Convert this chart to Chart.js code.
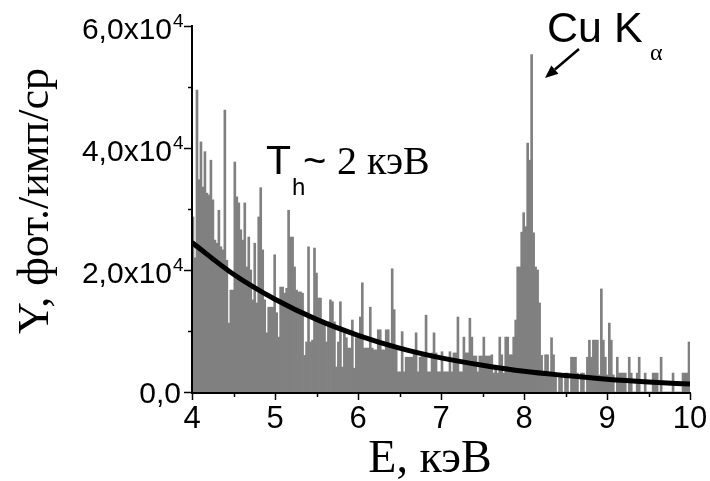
<!DOCTYPE html>
<html>
<head>
<meta charset="utf-8">
<script src="https://cdn.jsdelivr.net/npm/chart.js@4"></script>
<style>
  html, body { margin: 0; padding: 0; background: #ffffff; }
  #wrap { width: 710px; height: 481px; position: relative; }
</style>
</head>
<body>
<div id="wrap"><canvas id="c" width="710" height="481"></canvas></div>
<script>
// Spectrum channels: 0.024 keV wide, starting at 4 keV
const channelStart = 4.0;
const channelWidth = 0.024;

// Photon yield per channel (фот./имп/ср)
const counts = [
  28700, 22000, 49500, 34800, 41000, 33600, 39400, 32600, 32300, 38000,
  31500, 24900, 24400, 29800, 23800, 23300, 46200, 21600, 11300, 16700,
  16700, 37700, 32000, 31000, 26600, 24900, 31000, 20500, 25400, 20000,
  15100, 24400, 14600, 28700, 33500, 23300, 15100, 9700, 13900, 13900,
  13900, 22500, 13000, 9000, 17200, 17200, 16200, 17000,
  29800, 25400, 25400, 20500, 16700, 16400, 16400, 16200, 6000, 8200,
  23800, 8200, 8500, 23600, 19500, 15400, 15400, 11800, 11500, 8200,
  11500, 15100, 14800, 11500, 4100, 8200, 14800, 4100, 10200, 8900,
  7200, 7200, 11800, 3900, 8900, 8900, 12300, 17900, 7200, 7200,
  7200, 13900, 7200, 6900, 6900, 10200, 10200, 6900, 6900, 10200,
  10200,
  7400, 20200, 13500, 6900, 3300, 3300, 9900, 3300, 5700, 5700,
  5700, 5700, 6400, 9700, 3300, 5700, 6400, 6400, 12600, 3300,
  3300, 6400, 9700, 6400, 3300, 3300, 6600, 3300, 3300, 3300,
  6600, 3300, 6400, 6400, 12300, 3300, 3300, 9000, 6400, 6400,
  12100, 9000, 5900, 5900, 3300, 5900, 5900, 9000, 5900, 5900,
  5900,
  6100, 3100, 4400, 3100, 9000, 6100, 3100, 9000, 9000, 6100,
  6100, 9000, 11800, 20500, 20500, 26200, 29400, 27100, 40800, 38000,
  55300, 26100, 20500, 20000, 14600, 6000, 3000, 6100, 6100, 3100,
  8900, 6100, 3100, 0, 3100, 3100, 0, 3100, 3100, 0,
  5700, 5700, 5700, 3100, 0, 3100, 3100, 0, 5700, 8500,
  5700, 8500, 8500, 8500, 2800, 16900, 8500, 5700, 2800, 11300,
  8500, 2800, 0, 5700, 3100, 3100, 3100, 3100, 0, 5700,
  3100, 0, 0, 3100, 5700, 0, 0, 3100, 0, 0,
  0, 3100, 3100, 3100, 0, 5700, 0, 0, 0, 0,
  0, 3100, 0, 0, 0, 0, 3100, 3100, 3100, 8200
];

// Exponential fit, T_h ~ 2 keV
const fitEnergy = [4.0, 4.5, 5.0, 5.5, 6.0, 6.5, 7.0, 7.5, 8.0, 8.5, 9.0, 9.5, 10.0];
const fitCounts = [24500, 19300, 15200, 11900, 9300, 7200, 5600, 4400, 3400, 2700, 2100, 1650, 1300];

// Axis ticks and labels
const xTicks = [4, 5, 6, 7, 8, 9, 10];
const xTickLabels = ['4', '5', '6', '7', '8', '9', '10'];
const xMinorTicks = [4.5, 5.5, 6.5, 7.5, 8.5, 9.5];
const yTicks = [0, 20000, 40000, 60000];
const yTickMantissa = ['0,0', '2,0x10', '4,0x10', '6,0x10'];
const yTickExponent = ['', '4', '4', '4'];
const yMinorTicks = [10000, 30000, 50000];

const xTitle = 'E, кэВ';
const yTitle = 'Y, фот./имп/ср';

const SANS = '"Liberation Sans", Arial, sans-serif';
const SERIF = '"Liberation Serif", "Times New Roman", serif';

const spectrumPoints = counts.map((v, i) => ({ x: channelStart + channelWidth * (i + 0.5), y: v }));
const fitPoints = fitEnergy.map((e, i) => ({ x: e, y: fitCounts[i] }));

// Axes, ticks, labels and annotations drawn over the plot
const decorations = {
  id: 'decorations',
  afterDraw(chart) {
    const ctx = chart.ctx;
    const xs = chart.scales.x, ys = chart.scales.y;
    const area = chart.chartArea;
    ctx.save();
    ctx.strokeStyle = '#000';
    ctx.fillStyle = '#000';
    ctx.lineWidth = 2;
    ctx.lineCap = 'butt';

    // axis lines
    ctx.beginPath();
    ctx.moveTo(area.left, ys.getPixelForValue(60000) - 1);
    ctx.lineTo(area.left, area.bottom + 1);
    ctx.lineTo(xs.getPixelForValue(10) + 1, area.bottom + 1);
    ctx.stroke();

    // y ticks
    ctx.lineWidth = 1.5;
    yTicks.forEach(v => {
      const y = Math.round(ys.getPixelForValue(v)) + 0.5;
      ctx.beginPath(); ctx.moveTo(area.left - 8, y); ctx.lineTo(area.left, y); ctx.stroke();
    });
    yMinorTicks.forEach(v => {
      const y = Math.round(ys.getPixelForValue(v)) + 0.5;
      ctx.beginPath(); ctx.moveTo(area.left - 4, y); ctx.lineTo(area.left, y); ctx.stroke();
    });
    // x ticks
    xTicks.forEach(v => {
      const x = Math.round(xs.getPixelForValue(v)) + 0.5;
      ctx.beginPath(); ctx.moveTo(x, area.bottom + 1); ctx.lineTo(x, area.bottom + 8); ctx.stroke();
    });
    xMinorTicks.forEach(v => {
      const x = Math.round(xs.getPixelForValue(v)) + 0.5;
      ctx.beginPath(); ctx.moveTo(x, area.bottom + 1); ctx.lineTo(x, area.bottom + 5); ctx.stroke();
    });

    // y tick labels with exponent
    ctx.textBaseline = 'alphabetic';
    yTicks.forEach((v, i) => {
      const y = ys.getPixelForValue(v);
      if (yTickExponent[i]) {
        ctx.font = '30px ' + SANS;
        ctx.textAlign = 'right';
        ctx.fillText(yTickMantissa[i], 172, y + 13);
        ctx.font = '19px ' + SANS;
        ctx.textAlign = 'left';
        ctx.fillText(yTickExponent[i], 173, y + 1);
      } else {
        ctx.font = '30px ' + SANS;
        ctx.textAlign = 'right';
        ctx.fillText(yTickMantissa[i], 181, y + 11);
      }
    });

    // x tick labels
    ctx.font = '31px ' + SANS;
    ctx.textAlign = 'center';
    xTicks.forEach((v, i) => {
      ctx.fillText(xTickLabels[i], xs.getPixelForValue(v), 428);
    });

    // axis titles
    ctx.font = '46px ' + SERIF;
    ctx.textAlign = 'center';
    ctx.fillText(xTitle, 430, 472);

    ctx.save();
    ctx.translate(48, 201);
    ctx.rotate(-Math.PI / 2);
    ctx.font = '44px ' + SERIF;
    ctx.textAlign = 'center';
    ctx.fillText(yTitle, 0, 0);
    ctx.restore();

    // temperature label
    ctx.textAlign = 'left';
    ctx.font = '41px ' + SANS;
    ctx.fillText('T', 266, 174);
    ctx.font = '24px ' + SANS;
    ctx.fillText('h', 292, 195);
    ctx.font = '40px ' + SANS;
    ctx.fillText('~', 303, 174);
    ctx.font = '40px ' + SERIF;
    ctx.fillText('2 кэВ', 337, 174);

    // line label
    ctx.font = '43px ' + SANS;
    ctx.fillText('Cu K', 547, 42);
    ctx.font = '24px ' + SERIF;
    ctx.fillText('α', 650, 60);

    // arrow to the peak
    const x0 = 579, y0 = 49, x1 = 545, y1 = 78;
    const ang = Math.atan2(y1 - y0, x1 - x0);
    const headLen = 13, headHalf = 5.5;
    const bx = x1 - headLen * Math.cos(ang), by = y1 - headLen * Math.sin(ang);
    ctx.lineWidth = 2.5;
    ctx.beginPath(); ctx.moveTo(x0, y0); ctx.lineTo(bx, by); ctx.stroke();
    ctx.beginPath();
    ctx.moveTo(x1, y1);
    ctx.lineTo(bx + headHalf * Math.sin(ang), by - headHalf * Math.cos(ang));
    ctx.lineTo(bx - headHalf * Math.sin(ang), by + headHalf * Math.cos(ang));
    ctx.closePath();
    ctx.fill();

    ctx.restore();
  }
};

new Chart(document.getElementById('c'), {
  type: 'bar',
  data: {
    datasets: [
      {
        type: 'line',
        data: fitPoints,
        borderColor: '#000000',
        borderWidth: 5,
        pointRadius: 0,
        fill: false,
        cubicInterpolationMode: 'monotone',
        order: 0
      },
      {
        type: 'bar',
        data: spectrumPoints,
        backgroundColor: '#808080',
        borderWidth: 0,
        barPercentage: 1.0,
        categoryPercentage: 1.0,
        order: 1
      }
    ]
  },
  options: {
    responsive: false,
    animation: false,
    devicePixelRatio: 1,
    layout: { padding: { left: 192, right: 20, top: 26, bottom: 89 } },
    plugins: { legend: { display: false }, tooltip: { enabled: false } },
    scales: {
      x: { type: 'linear', display: false, min: 4, max: 10, offset: false },
      y: { type: 'linear', display: false, min: 0, max: 60000 }
    }
  },
  plugins: [decorations]
});
</script>
</body>
</html>
